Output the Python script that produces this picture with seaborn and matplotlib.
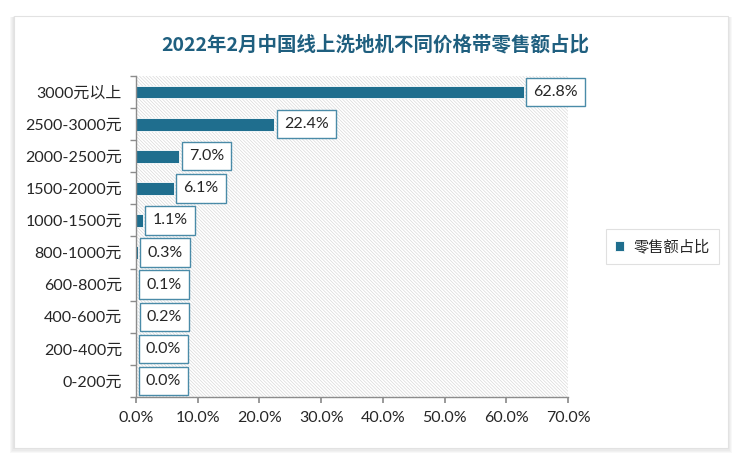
import matplotlib
matplotlib.use("Agg")
import matplotlib.pyplot as plt
import seaborn as sns
import pandas as pd
from matplotlib.patches import Rectangle, FancyBboxPatch
from matplotlib.ticker import FuncFormatter, MultipleLocator

categories = ["3000元以上", "2500-3000元", "2000-2500元", "1500-2000元", "1000-1500元",
              "800-1000元", "600-800元", "400-600元", "200-400元", "0-200元"]
values = [62.8, 22.4, 7.0, 6.1, 1.1, 0.3, 0.1, 0.2, 0.0, 0.0]
series_name = "零售额占比"
title = "2022年2月中国线上洗地机不同价格带零售额占比"

sns.set_theme(style="white")
plt.rcParams['font.family'] = ['Lato', 'Noto Sans CJK SC', 'DejaVu Sans']
plt.rcParams['hatch.linewidth'] = 0.5

bar_color = "#1f6e8e"
df = pd.DataFrame({"cat": categories, "val": values, "series": series_name})

fig = plt.figure(figsize=(7.5, 4.57), dpi=100)
fig.patch.set_facecolor('white')

# card with shadow
for i in range(4):
    off = 0.003 * (i + 1)
    fig.patches.append(FancyBboxPatch((0.0187 - off*0.4, 0.0197 - off), 0.952 + off*0.8, 0.9453 + off*0.8,
                                      boxstyle="square,pad=0", transform=fig.transFigure,
                                      fc='#808080', ec='none', alpha=0.05, zorder=0))
fig.patches.append(Rectangle((0.0187, 0.0197), 0.952, 0.9453, transform=fig.transFigure,
                             fc='white', ec='#e2e2e2', lw=0.8, zorder=1))

ax = fig.add_axes([0.1813, 0.1313, 0.5760, 0.7024])
ax.set_zorder(2)
ax.set_facecolor('none')
ax.add_patch(Rectangle((0, 0), 1, 1, transform=ax.transAxes, fc='white', ec='#d9d9d9', lw=0,
                       hatch='\\' * 10, zorder=0))

sns.barplot(data=df, y="cat", x="val", hue="series", orient='h', palette=[bar_color],
            saturation=1, width=0.4, ax=ax, edgecolor='white', linewidth=0.6, zorder=3)

ax.set_xlim(0, 70)
ax.xaxis.set_major_locator(MultipleLocator(10))
ax.xaxis.set_major_formatter(FuncFormatter(lambda v, p: f"{v:.1f}%"))
ax.set_xlabel("")
ax.set_ylabel("")

for s in ['top', 'right']:
    ax.spines[s].set_visible(False)
for s in ['left', 'bottom']:
    ax.spines[s].set_color('#8c8c8c')
    ax.spines[s].set_linewidth(1.0)
    ax.spines[s].set_zorder(4)

ax.tick_params(axis='x', bottom=True, length=4, color='#8c8c8c', labelsize=11.5,
               labelcolor='#262626', pad=6)
ax.tick_params(axis='y', left=False, length=0, labelsize=11.5, labelcolor='#262626', pad=10)
ax.set_yticks([i + 0.5 for i in range(-1, len(categories))], minor=True)
ax.tick_params(axis='y', which='minor', left=True, length=4, color='#8c8c8c')

for lab in ax.get_xticklabels() + ax.get_yticklabels():
    lab.set_fontfamily(['Lato', 'Noto Sans CJK SC'])

for i, v in enumerate(values):
    ax.annotate(f"{v:.1f}%", xy=(v, i), xytext=(7, 0), textcoords='offset points',
                ha='left', va='center', fontsize=11.5, color='#262626',
                bbox=dict(boxstyle='square,pad=0.45', fc='white', ec='#4a8ba8', lw=1.0),
                zorder=5, fontfamily=['Lato', 'Noto Sans CJK SC'])

leg = ax.legend(loc='center', bbox_to_anchor=(0.883, 0.46), bbox_transform=fig.transFigure,
                frameon=True, fancybox=False, edgecolor='#d9d9d9', handlelength=0.6,
                handleheight=0.6, handletextpad=0.6, borderpad=0.6, fontsize=11)
leg.get_frame().set_linewidth(0.8)
for t in leg.get_texts():
    t.set_fontfamily(['Noto Sans CJK SC'])
    t.set_color('#262626')

fig.text(0.5, 0.902, title, ha='center', va='center', fontsize=14, fontweight='bold',
         color='#1f5f7f', fontfamily=['Noto Sans CJK SC'], zorder=3)

fig.savefig("out.png", dpi=100)
